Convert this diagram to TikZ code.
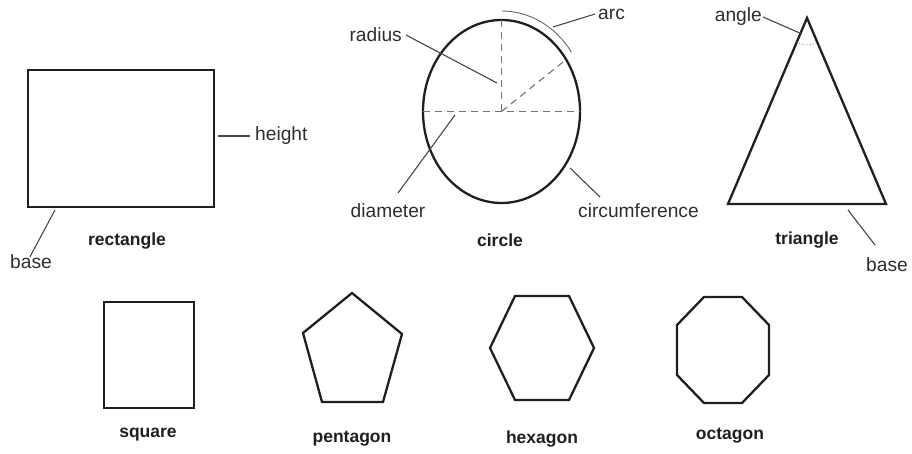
\documentclass[tikz,border=0pt]{standalone}
\usepackage{fontspec}
\setmainfont{Liberation Sans}
\begin{document}
\begin{tikzpicture}[x=1pt,y=-1pt,
  shape line/.style={draw=black!88, line width=2.3pt, line join=miter},
  leader/.style={draw=black!72, line width=1.1pt},
  helper/.style={draw=black!55, line width=1.1pt, dash pattern=on 7pt off 5pt},
  lbl/.style={inner sep=0pt, font=\fontsize{19.2}{21}\selectfont, text=black!82},
  title/.style={inner sep=0pt, font=\fontsize{17.5}{19}\selectfont\bfseries, text=black!88}]
\useasboundingbox (0,0) rectangle (912,454);

% ---------- rectangle ----------
\draw[shape line] (28,70) rectangle (214,207);
\coordinate (rh) at (218,136);
\coordinate (rb) at (55,210);
\node[lbl, anchor=west] (height) at (255,136) {height};
\node[lbl] (rbase) at (31,262) {base};
\node[title] (rect) at (127,241) {rectangle};
\draw[leader] (rh) -- ([xshift=-5pt]height.west);
\draw[leader] (rb) -- ([xshift=-1pt,yshift=-2pt]rbase.north);

% ---------- circle ----------
\coordinate (cc) at (501.5,111.5);
\draw[shape line] (cc) ellipse[x radius=78.5, y radius=91.5];
\coordinate (ctop) at (501.5,20);
\coordinate (cleft) at (423,111.5);
\coordinate (cright) at (580,111.5);
\coordinate (crad) at (563,62);
\draw[helper] (ctop) -- (cc);
\draw[helper] (cleft) -- (cright);
\draw[helper] (cc) -- (crad);
\draw[draw=black!60, line width=0.9pt] (502,11) arc[start angle=-90, end angle=-36, x radius=86, y radius=100];
\coordinate (arcpt) at (553,27);
\coordinate (radpt) at (497,83);
\coordinate (diapt) at (455,115);
\coordinate (cirpt) at (570,168);
\coordinate (diaend) at (398,193);
\coordinate (cirend) at (600,197);
\node[lbl, anchor=west] (arc) at (598,14) {arc};
\node[lbl, anchor=east] (radius) at (402,35) {radius};
\node[lbl] (diameter) at (388,211) {diameter};
\node[lbl, anchor=west] (circumf) at (578,211) {circumference};
\node[title] (circle) at (500,240) {circle};
\draw[leader] ([xshift=-3pt]arc.west) -- (arcpt);
\draw[leader] ([xshift=4pt]radius.east) -- (radpt);
\draw[leader] (diapt) -- (diaend);
\draw[leader] (cirpt) -- (cirend);

% ---------- triangle ----------
\coordinate (tA) at (807,18);
\coordinate (tL) at (728,204);
\coordinate (tR) at (886,204);
\draw[shape line] (tA) -- (tL) -- (tR) -- cycle;
\draw[draw=black!55, line width=0.8pt, dotted] (796.5,42.7) arc[start angle=113, end angle=67, radius=27];
\coordinate (angpt) at (802,34);
\coordinate (tbpt) at (848,210);
\coordinate (tbend) at (875,245);
\node[lbl, anchor=east] (angle) at (762,17) {angle};
\node[lbl] (tbase) at (887,265) {base};
\node[title] (tri) at (807,240) {triangle};
\draw[leader] ([xshift=1pt]angle.east) -- (angpt);
\draw[leader] (tbpt) -- (tbend);

% ---------- bottom row ----------
\draw[shape line] (104,302) rectangle (194,408);
\node[title] (square) at (148,435) {square};

\draw[shape line] (352,293) -- (402,334) -- (383,402) -- (322,402) -- (303,333) -- cycle;
\node[title] (pent) at (352,439) {pentagon};

\draw[shape line] (515,296) -- (569,296) -- (594,348) -- (569,400) -- (515,400) -- (490,348) -- cycle;
\node[title] (hex) at (542,439) {hexagon};

\draw[shape line] (704,297) -- (742,297) -- (769,325) -- (769,375) -- (742,403) -- (704,403) -- (677,375) -- (677,325) -- cycle;
\node[title] (oct) at (730,436) {octagon};
\end{tikzpicture}
\end{document}
